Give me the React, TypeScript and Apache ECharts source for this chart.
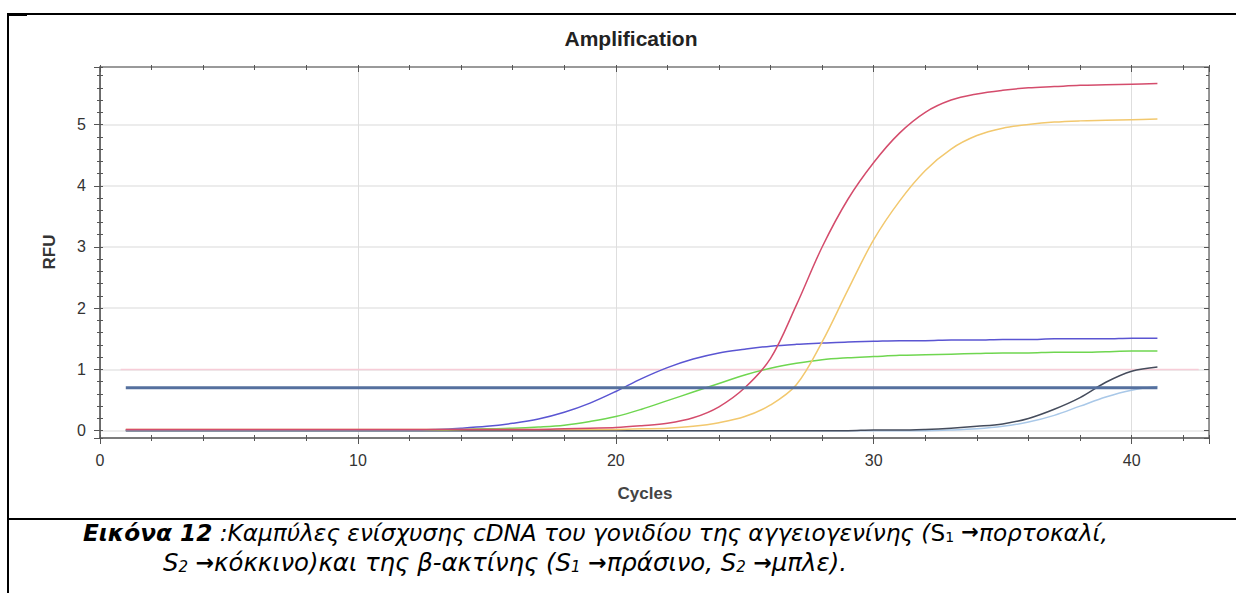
import React, { useEffect, useRef } from "react";
import * as echarts from "echarts";

// ---- data ----
const CYCLES = [1, 2, 3, 4, 5, 6, 7, 8, 9, 10, 11, 12, 13, 14, 15, 16, 17, 18, 19, 20, 21, 22, 23, 24, 25, 26, 27, 28, 29, 30, 31, 32, 33, 34, 35, 36, 37, 38, 39, 40, 41];

// angiogenin S2 (red)
const ANG_S2 = [0.02, 0.02, 0.02, 0.02, 0.02, 0.02, 0.02, 0.02, 0.02, 0.02, 0.02, 0.02, 0.02, 0.02, 0.02, 0.02, 0.02, 0.03, 0.04, 0.05, 0.08, 0.12, 0.21, 0.39, 0.7, 1.18, 2.05, 3.0, 3.78, 4.38, 4.86, 5.2, 5.4, 5.5, 5.56, 5.6, 5.62, 5.64, 5.65, 5.66, 5.67];
// angiogenin S1 (orange)
const ANG_S1 = [0.02, 0.02, 0.02, 0.02, 0.02, 0.02, 0.02, 0.02, 0.02, 0.02, 0.02, 0.02, 0.02, 0.02, 0.02, 0.02, 0.02, 0.02, 0.02, 0.02, 0.03, 0.04, 0.07, 0.13, 0.23, 0.42, 0.75, 1.45, 2.3, 3.12, 3.75, 4.25, 4.6, 4.82, 4.94, 5.0, 5.04, 5.06, 5.07, 5.08, 5.09];
// beta-actin S2 (blue)
const ACT_S2 = [0.01, 0.01, 0.01, 0.01, 0.01, 0.01, 0.01, 0.01, 0.01, 0.01, 0.01, 0.01, 0.02, 0.04, 0.07, 0.12, 0.19, 0.3, 0.45, 0.64, 0.85, 1.03, 1.17, 1.27, 1.33, 1.38, 1.41, 1.43, 1.45, 1.46, 1.47, 1.47, 1.48, 1.48, 1.49, 1.49, 1.5, 1.5, 1.5, 1.51, 1.51];
// beta-actin S1 (green)
const ACT_S1 = [0.01, 0.01, 0.01, 0.01, 0.01, 0.01, 0.01, 0.01, 0.01, 0.01, 0.01, 0.01, 0.01, 0.02, 0.03, 0.04, 0.06, 0.09, 0.15, 0.23, 0.35, 0.49, 0.63, 0.77, 0.91, 1.02, 1.1, 1.16, 1.19, 1.21, 1.23, 1.24, 1.25, 1.26, 1.27, 1.27, 1.28, 1.28, 1.29, 1.3, 1.3];
// late curves
const LATE_DARK = [0, 0, 0, 0, 0, 0, 0, 0, 0, 0, 0, 0, 0, 0, 0, 0, 0, 0, 0, 0, 0, 0, 0, 0, 0, 0, 0, 0, 0, 0.01, 0.01, 0.02, 0.04, 0.07, 0.11, 0.2, 0.35, 0.54, 0.79, 0.97, 1.04];
const LATE_LIGHT = [0, 0, 0, 0, 0, 0, 0, 0, 0, 0, 0, 0, 0, 0, 0, 0, 0, 0, 0, 0, 0, 0, 0, 0, 0, 0, 0, 0, 0, 0, 0, 0, 0.01, 0.03, 0.07, 0.14, 0.25, 0.4, 0.55, 0.66, 0.72];

const THRESHOLD = 0.7;
const THRESHOLD_RANGE = [1, 41];
const PINK_LEVEL = 1;
const PINK_RANGE = [0.8, 42.6];

const X_TICK_LABELS = ["0", "10", "20", "30", "40"];
const Y_TICK_LABELS = ["0", "1", "2", "3", "4", "5"];

const X_MIN = 0;
const X_MAX = 43;
const Y_MIN = -0.12;
const Y_MAX = 5.94;

const TITLE = "Amplification";
const X_NAME = "Cycles";
const Y_NAME = "RFU";

const TICK = "#555";

function xAx(position: string, interval: number, inside: boolean, length: number, line?: any, label?: any, split?: any) {
  return {
    type: "value",
    min: X_MIN,
    max: X_MAX,
    interval,
    position,
    axisLine: line ? { show: true, onZero: false, lineStyle: line } : { show: false, onZero: false },
    axisTick: { show: true, inside, length, lineStyle: { color: TICK, width: 1 } },
    axisLabel: label ? label : { show: false },
    splitLine: split ? split : { show: false },
  };
}

function yAx(position: string, splitNumber: number, inside: boolean, length: number, line?: any, label?: any, split?: any) {
  return {
    type: "value",
    min: Y_MIN,
    max: Y_MAX,
    splitNumber,
    position,
    axisLine: line ? { show: true, onZero: false, lineStyle: line } : { show: false, onZero: false },
    axisTick: { show: true, inside, length, lineStyle: { color: TICK, width: 1 } },
    axisLabel: label ? label : { show: false },
    splitLine: split ? split : { show: false },
  };
}

function curve(name: string, values: number[], color: string, width = 1.5) {
  return {
    name,
    type: "line",
    xAxisIndex: 0,
    yAxisIndex: 0,
    showSymbol: false,
    smooth: 0.35,
    data: CYCLES.map((c, i) => [c, values[i]]),
    lineStyle: { color, width },
    itemStyle: { color },
  };
}

const CAP_FONT = "DejaVu Sans";

function captionRich(fs: number, lh: number) {
  const sub = Math.round(fs * 0.62);
  const ar = Math.round(fs * 0.9);
  return {
    b: { fontFamily: CAP_FONT, fontStyle: "italic", fontWeight: "bold", fontSize: fs, lineHeight: lh, fill: "#000" },
    i: { fontFamily: CAP_FONT, fontStyle: "italic", fontSize: fs, lineHeight: lh, fill: "#000" },
    u: { fontFamily: CAP_FONT, fontSize: fs, lineHeight: lh, fill: "#000" },
    sub: { fontFamily: CAP_FONT, fontSize: sub, lineHeight: lh, verticalAlign: "bottom", fill: "#000" },
    isub: { fontFamily: CAP_FONT, fontStyle: "italic", fontSize: sub, lineHeight: lh, verticalAlign: "bottom", fill: "#000" },
    a: { fontFamily: "DejaVu Sans", fontWeight: "bold", fontSize: ar, lineHeight: lh, fill: "#000" },
  };
}

export default function App() {
  const ref = useRef<HTMLDivElement>(null);
  useEffect(() => {
    const chart = echarts.init(ref.current!, null, { renderer: "svg" });
    const labelFont = { fontFamily: "Liberation Sans, Arial, sans-serif", fontSize: 16, color: "#333" };
    const option: any = {
      animation: false,
      backgroundColor: "#fff",
      grid: { left: 100, top: 67, right: 27, bottom: 155, containLabel: false },
      xAxis: [
        xAx("bottom", 10, false, 6, { color: "#555", width: 1.5 }, {
          show: true, margin: 14, ...labelFont,
          formatter: (v: number) => (X_TICK_LABELS.includes(String(v)) ? String(v) : ""),
        }, { show: true, lineStyle: { color: "#dedede", width: 1 } }),
        xAx("bottom", 10, true, 3),
        xAx("bottom", 2, false, 3),
        xAx("bottom", 2, true, 3),
        xAx("top", 10, true, 5, { color: "#9a9a9a", width: 2 }),
        xAx("top", 2, true, 3),
        xAx("top", 2, false, 2),
      ],
      yAxis: [
        yAx("left", 6, false, 6, { color: "#444", width: 1.5 }, {
          show: true, margin: 14, ...labelFont,
          formatter: (v: number) => (Y_TICK_LABELS.includes(String(v)) ? String(v) : ""),
        }, { show: true, lineStyle: { color: "#e6e6e6", width: 1.5 } }),
        yAx("left", 6, true, 3),
        yAx("left", 30, false, 3),
        yAx("left", 30, true, 3),
        yAx("right", 6, true, 5, { color: "#777", width: 1.5 }),
        yAx("right", 30, true, 3),
      ],
      series: [
        {
          name: "level",
          type: "line",
          xAxisIndex: 0,
          yAxisIndex: 0,
          showSymbol: false,
          data: [[PINK_RANGE[0], PINK_LEVEL], [PINK_RANGE[1], PINK_LEVEL]],
          lineStyle: { color: "#f7cdd8", width: 1.5 },
          z: 1,
        },
        curve("late-light", LATE_LIGHT, "#a9c8e8"),
        curve("late-dark", LATE_DARK, "#454c5c"),
        curve("β-actin S1", ACT_S1, "#6fd650"),
        curve("β-actin S2", ACT_S2, "#5a55d2"),
        curve("angiogenin S1", ANG_S1, "#f2c86e"),
        curve("angiogenin S2", ANG_S2, "#d44c6c"),
        {
          name: "threshold",
          type: "line",
          xAxisIndex: 0,
          yAxisIndex: 0,
          showSymbol: false,
          data: [[THRESHOLD_RANGE[0], THRESHOLD], [THRESHOLD_RANGE[1], THRESHOLD]],
          lineStyle: { color: "#55709e", width: 3 },
          z: 3,
        },
      ],
      graphic: [
        { type: "rect", shape: { x: 7, y: 13, width: 1229, height: 2 }, style: { fill: "#000" }, silent: true },
        { type: "rect", shape: { x: 7, y: 13, width: 20, height: 3 }, style: { fill: "#000" }, silent: true },
        { type: "rect", shape: { x: 7, y: 13, width: 2, height: 580 }, style: { fill: "#000" }, silent: true },
        { type: "rect", shape: { x: 7, y: 518, width: 1229, height: 2 }, style: { fill: "#000" }, silent: true },
        {
          type: "text", x: 631, y: 38,
          style: { text: TITLE, font: "bold 21px 'Liberation Sans', Arial, sans-serif", fill: "#222", align: "center", verticalAlign: "middle" },
        },
        {
          type: "text", x: 49, y: 252, rotation: Math.PI / 2,
          style: { text: Y_NAME, font: "bold 17px 'Liberation Sans', Arial, sans-serif", fill: "#333", align: "center", verticalAlign: "middle" },
        },
        {
          type: "text", x: 645, y: 493,
          style: { text: X_NAME, font: "bold 17px 'Liberation Sans', Arial, sans-serif", fill: "#444", align: "center", verticalAlign: "middle" },
        },
        {
          type: "text", x: 83, y: 532,
          style: {
            text: "{b|Εικόνα 12}{i| :Καμπύλες ενίσχυσης cDNA του γονιδίου της αγγειογενίνης (}{u|S}{sub|1}{a| →}{i|πορτοκαλί,}",
            align: "left", verticalAlign: "middle",
            rich: captionRich(23.2, 24),
          },
        },
        {
          type: "text", x: 163, y: 562,
          style: {
            text: "{i|S}{isub|2}{a| →}{i|κόκκινο)και της β-ακτίνης (S}{isub|1}{a| →}{i|πράσινο, S}{isub|2}{a| →}{i|μπλε).}",
            align: "left", verticalAlign: "middle",
            rich: captionRich(24.4, 24.4),
          },
        },
      ],
    };
    chart.setOption(option);
    return () => chart.dispose();
  }, []);
  return (
    <div
      ref={ref}
      style={{ position: "absolute", left: 0, top: 0, width: 1236, height: 593, background: "#fff" }}
    />
  );
}
